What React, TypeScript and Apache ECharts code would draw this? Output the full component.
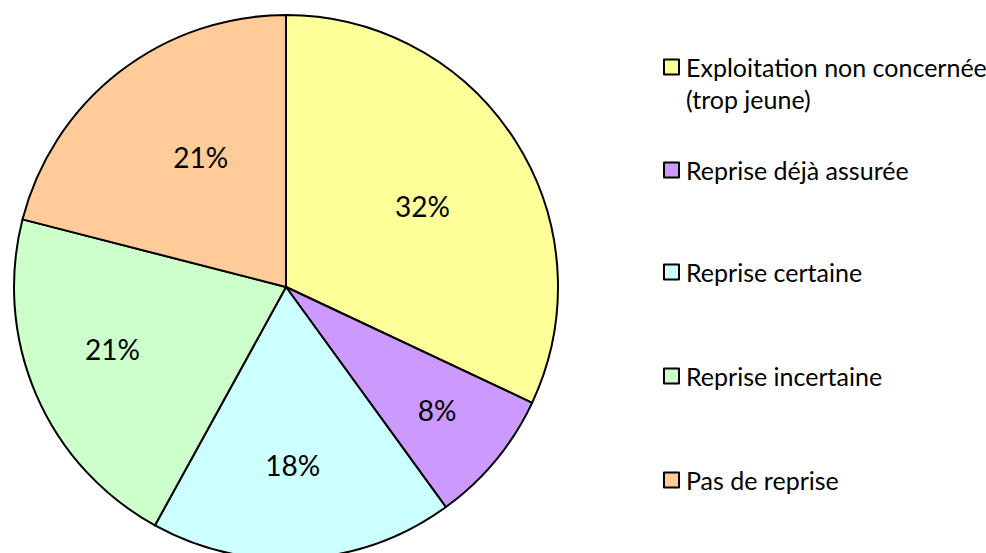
import React, { useEffect, useRef } from "react";
import * as echarts from "echarts";

const categories = [
  "Exploitation non concernée (trop jeune)",
  "Reprise déjà assurée",
  "Reprise certaine",
  "Reprise incertaine",
  "Pas de reprise",
];
const values = [32, 8, 18, 21, 21];
const colors = ["#FFFF99", "#CC99FF", "#CCFFFF", "#CCFFCC", "#FFCC99"];

// label nudges (Excel best-fit placement)
const labelOffsets: [number, number][] = [
  [19, -7],
  [44, 34],
  [-2, 39],
  [-46, 7],
  [0, -20],
];
const legendCenters = [67, 170, 272, 376, 480];

const FONT = "Lato";
const LH = 32;

export default function App() {
  const ref = useRef<HTMLDivElement>(null);
  useEffect(() => {
    if (!ref.current) return;
    const chart = echarts.init(ref.current, undefined, { renderer: "svg" });
    const legends = categories.map((name, i) => {
      const multi = i === 0;
      return {
        data: [name],
        orient: "vertical",
        left: 663,
        top: multi ? legendCenters[i] - 1.5 * LH : legendCenters[i] - LH / 2,
        padding: 0,
        itemWidth: 15,
        itemHeight: 15,
        icon: "rect",
        selectedMode: false,
        itemStyle: { borderColor: "#000", borderWidth: 2 },
        formatter: (n: string) =>
          multi ? "{s|}\n{t|" + n.replace(" (trop", "}\n{t|(trop") + "}" : n,
        textStyle: {
          fontFamily: FONT,
          fontSize: 25,
          color: "#000",
          lineHeight: LH,
          padding: [0, 0, 0, 2],
          rich: {
            s: { fontFamily: FONT, fontSize: 25, lineHeight: LH },
            t: { fontFamily: FONT, fontSize: 25, lineHeight: LH, color: "#000" },
          },
        },
      };
    });
    chart.setOption({
      animation: false,
      legend: legends,
      series: [
        {
          type: "pie",
          center: [286, 287],
          radius: [0, 272],
          startAngle: 90,
          clockwise: true,
          data: categories.map((name, i) => ({
            name,
            value: values[i],
            itemStyle: { color: colors[i] },
            label: { offset: labelOffsets[i] },
          })),
          itemStyle: { borderColor: "#000", borderWidth: 2 },
          label: {
            show: true,
            position: "inside",
            formatter: (p: any) => `${p.value}%`,
            fontFamily: FONT,
            fontSize: 28,
            color: "#000",
          },
          labelLine: { show: false },
          emphasis: { disabled: true },
        },
      ],
    });
    return () => chart.dispose();
  }, []);
  return (
    <div
      ref={ref}
      style={{ position: "fixed", left: 0, top: 0, width: 986, height: 553, background: "#fff" }}
    />
  );
}
